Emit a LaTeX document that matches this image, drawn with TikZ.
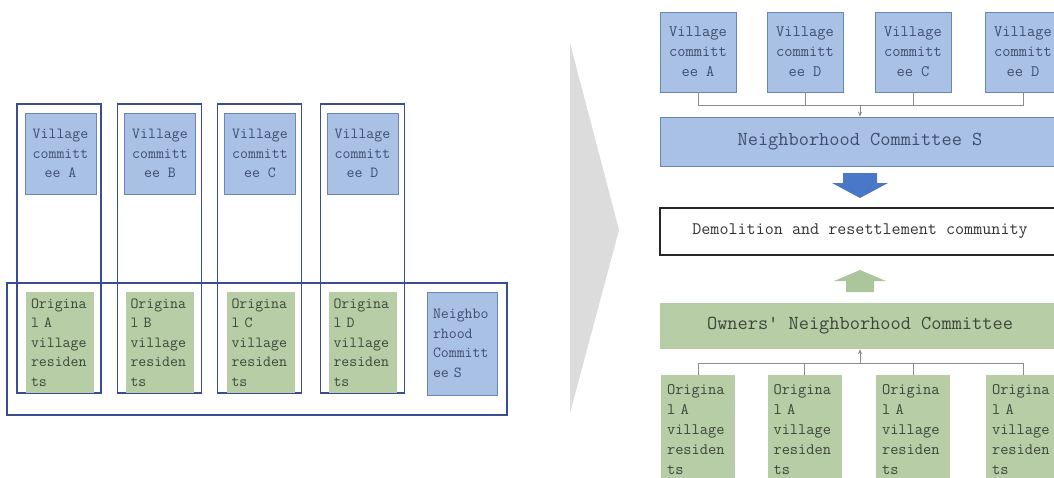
\documentclass[tikz,border=0pt]{standalone}
\usepackage{fontspec}
\usetikzlibrary{arrows.meta}
\definecolor{vcfill}{HTML}{AAC1E6}
\definecolor{vcline}{HTML}{6A86B8}
\definecolor{resfill}{HTML}{B6CDA6}
\definecolor{colline}{HTML}{3A4C92}
\definecolor{txtblue}{HTML}{3E4E6C}
\definecolor{txtgreen}{HTML}{3C463A}
\definecolor{wedge}{HTML}{DCDCDC}
\definecolor{bigblue}{HTML}{4A78C8}
\definecolor{biggreen}{HTML}{ABC69C}
\definecolor{connline}{HTML}{8C8C8C}
\tikzset{
  colbox/.style={draw=colline, line width=1.3pt, minimum width=84pt, inner sep=0pt},
  vcbox/.style={draw=vcline, fill=vcfill, line width=0.8pt, inner sep=0pt,
    text=txtblue, align=center},
  resbox/.style={fill=resfill, inner sep=0pt, text=txtgreen, align=left},
  smallfontL/.style={font=\ttfamily\fontsize{15.4}{19.5}\selectfont},
  smallfontR/.style={font=\ttfamily\fontsize{16}{20}\selectfont},
  widebox/.style={minimum width=400pt, inner sep=0pt},
  conn/.style={draw=connline, line width=0.6pt},
  connarrow/.style={conn, -{Stealth[length=5pt,width=4pt]}},
}
\begin{document}
\begin{tikzpicture}[x=1pt, y=-1pt]
\useasboundingbox (0,0) rectangle (1054,477);
\clip (0,0) rectangle (1054,477);
\fill[white] (0,0) rectangle (1054,477);

% ---------- left: villages grouped into columns ----------
\foreach \cx/\n in {59/1, 159.5/2, 259.5/3, 362.5/4}
  \node[colbox, minimum height=289pt] (col\n) at (\cx,248.5) {};
\node[colbox, minimum width=500pt, minimum height=132pt] (band) at (257,349) {};

\node[vcbox, smallfontL, minimum width=71pt, minimum height=81pt] (lvcA) at (60.5,153.5) {Village\\committ\\ee A};
\node[vcbox, smallfontL, minimum width=71pt, minimum height=81pt] (lvcB) at (160,153.5) {Village\\committ\\ee B};
\node[vcbox, smallfontL, minimum width=71pt, minimum height=81pt] (lvcC) at (260,153.5) {Village\\committ\\ee C};
\node[vcbox, smallfontL, minimum width=71pt, minimum height=81pt] (lvcD) at (362.5,153.5) {Village\\committ\\ee D};

\node[resbox, smallfontL, minimum width=68pt, minimum height=101pt, text width=58pt] (lresA) at (60,342.5) {Origina\\l A\\village\\residen\\ts};
\node[resbox, smallfontL, minimum width=68pt, minimum height=101pt, text width=58pt] (lresB) at (159.5,342.5) {Origina\\l B\\village\\residen\\ts};
\node[resbox, smallfontL, minimum width=68pt, minimum height=101pt, text width=58pt] (lresC) at (260.5,342.5) {Origina\\l C\\village\\residen\\ts};
\node[resbox, smallfontL, minimum width=68pt, minimum height=101pt, text width=58pt] (lresD) at (362.5,342.5) {Origina\\l D\\village\\residen\\ts};

\node[vcbox, smallfontL, align=left, text width=58pt, minimum width=70pt, minimum height=103pt] (lncs) at (462,343.5) {Neighbo\\rhood\\Committ\\ee S};

% ---------- transition chevron ----------
\fill[wedge] (570,43) -- (619,230) -- (570,413) -- cycle;

% ---------- right: merged community ----------
\node[vcbox, smallfontR, minimum width=76pt, minimum height=80pt] (rvc1) at (698,52) {Village\\committ\\ee A};
\node[vcbox, smallfontR, minimum width=76pt, minimum height=80pt] (rvc2) at (805,52) {Village\\committ\\ee D};
\node[vcbox, smallfontR, minimum width=76pt, minimum height=80pt] (rvc3) at (913,52) {Village\\committ\\ee C};
\node[vcbox, smallfontR, minimum width=76pt, minimum height=80pt] (rvc4) at (1023,52) {Village\\committ\\ee D};

\node[vcbox, widebox, minimum height=49pt, font=\ttfamily\fontsize{19.8}{22}\selectfont] (ncs) at (860,141.5) {Neighborhood Committee S};

\node[draw=black!85, line width=1.2pt, fill=white, widebox, minimum height=47pt,
      font=\ttfamily\fontsize{17.6}{20}\selectfont, text=black!80] (demo) at (860,231.5) {Demolition and resettlement community};

\node[resbox, widebox, align=center, minimum height=46pt, font=\ttfamily\fontsize{19.8}{22}\selectfont] (owners) at (860,326) {Owners' Neighborhood Committee};

\node[resbox, smallfontR, minimum width=74pt, minimum height=110pt, text width=62pt] (rres1) at (698,430) {Origina\\l A\\village\\residen\\ts};
\node[resbox, smallfontR, minimum width=74pt, minimum height=110pt, text width=62pt] (rres2) at (804.5,430) {Origina\\l A\\village\\residen\\ts};
\node[resbox, smallfontR, minimum width=74pt, minimum height=110pt, text width=62pt] (rres3) at (913,430) {Origina\\l A\\village\\residen\\ts};
\node[resbox, smallfontR, minimum width=74pt, minimum height=110pt, text width=62pt] (rres4) at (1023,430) {Origina\\l A\\village\\residen\\ts};

% bus from the village committees down to committee S
\coordinate (busT) at (860,105);
\draw[conn] (rvc1.south) -- (rvc1.south |- busT) -- (rvc4.south |- busT) -- (rvc4.south);
\draw[conn] (rvc2.south) -- (rvc2.south |- busT);
\draw[conn] (rvc3.south) -- (rvc3.south |- busT);
\draw[connarrow] (busT) -- (ncs.north);

% bus from the residents up to the owners' committee
\coordinate (busB) at (860,363);
\draw[conn] (rres1.north) -- (rres1.north |- busB) -- (rres4.north |- busB) -- (rres4.north);
\draw[conn] (rres2.north) -- (rres2.north |- busB);
\draw[conn] (rres3.north) -- (rres3.north |- busB);
\draw[connarrow] (busB) -- (owners.south);

% block arrows toward the community box
\fill[bigblue] (843,173) -- (877,173) -- (877,183) -- (888,183) -- (860,198) -- (832,183) -- (843,183) -- cycle;
\fill[biggreen] (846,292) -- (874,292) -- (874,281) -- (886,281) -- (860,270) -- (834,281) -- (846,281) -- cycle;
\end{tikzpicture}
\end{document}
